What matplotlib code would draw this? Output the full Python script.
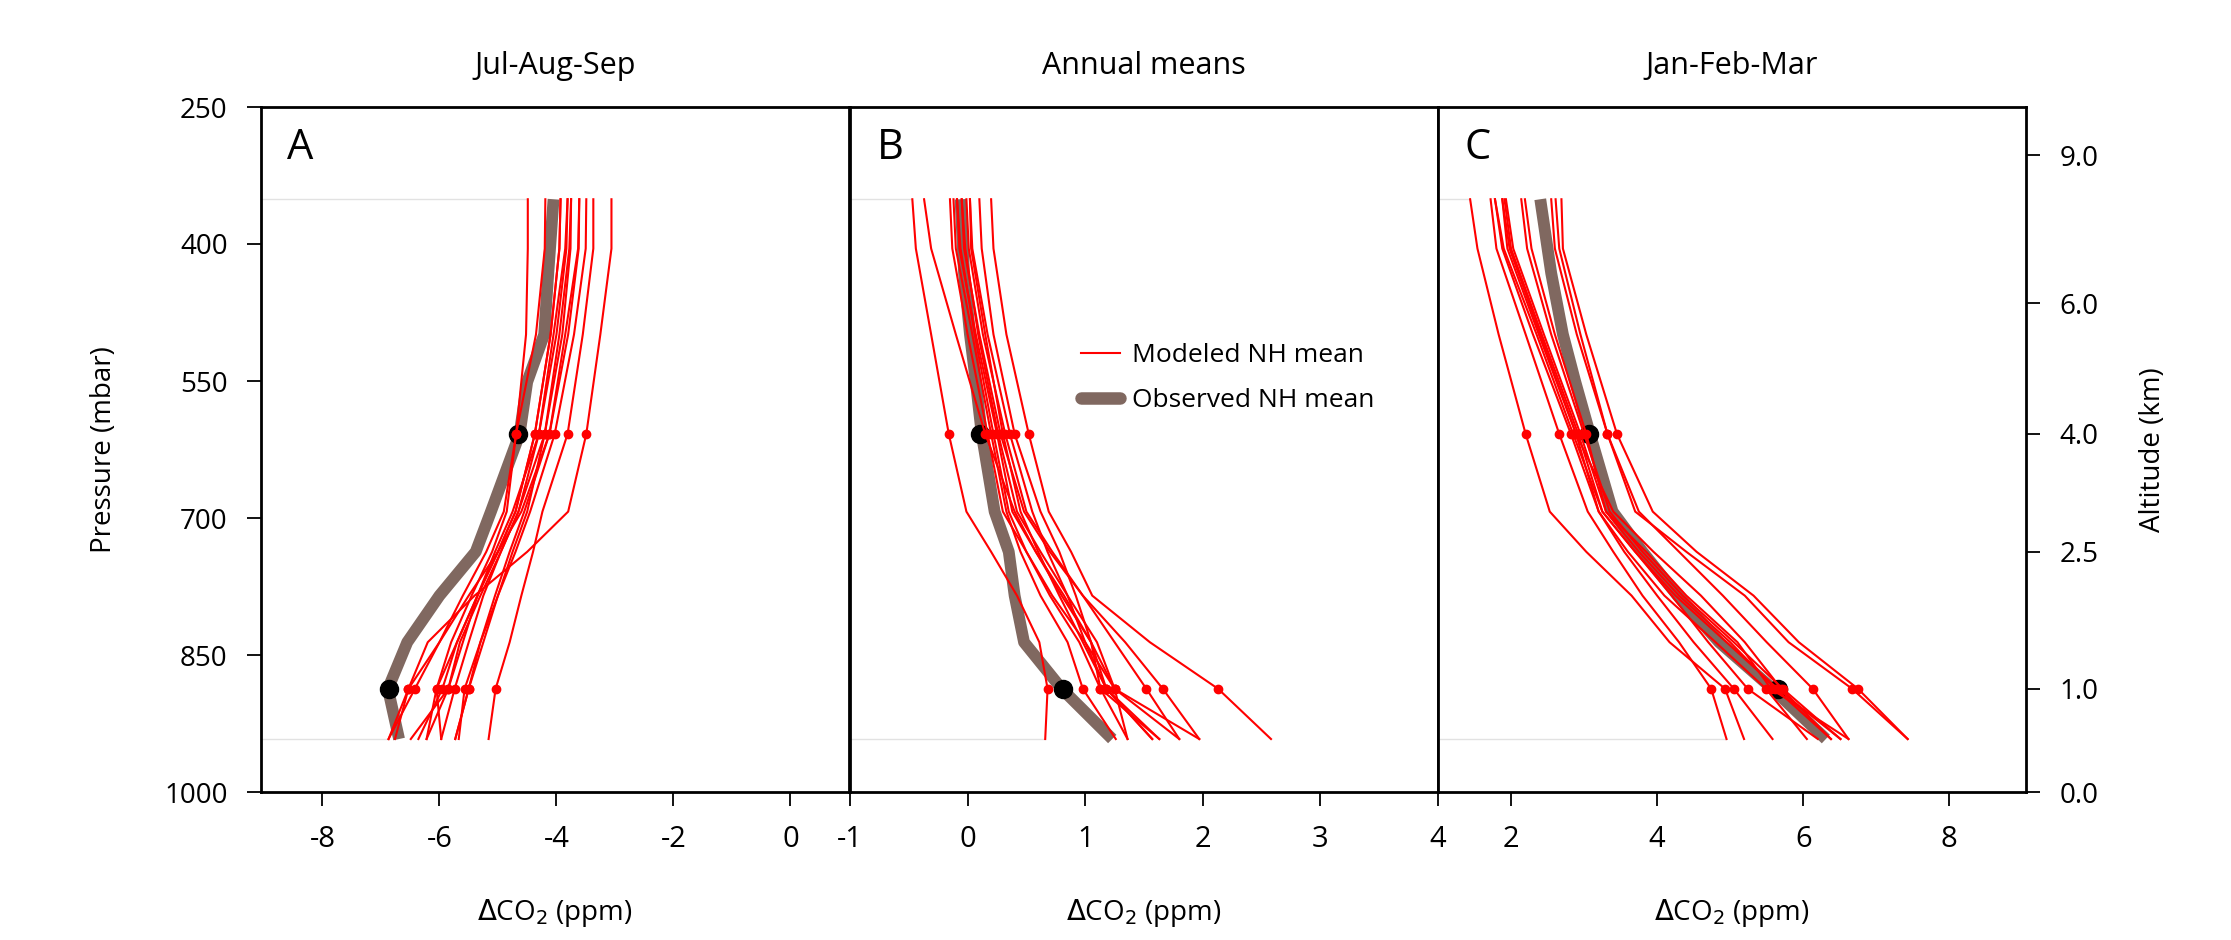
import numpy as np
import matplotlib.pyplot as plt

plt.rcParams['font.family'] = ['Open Sans', 'DejaVu Sans']
plt.rcParams['axes.unicode_minus'] = False

# pressure levels (mbar) of the profiles
levels = [351, 405, 499, 608, 693, 737, 785, 836, 887, 942]
obs_levels = [351, 432, 499, 551, 608, 693, 737, 785, 836, 887, 942]
dot_idx = [3, 8]           # 608 mbar (~4 km) and 887 mbar (~1 km)
dot_levels = [608, 887]

# Jul-Aug-Sep, modeled NH means (ppm)
jas_models = [
    [-3.06, -3.06, -3.25, -3.49, -3.80, -4.50, -5.40, -6.20, -6.53, -6.76],
    [-3.37, -3.37, -3.55, -3.81, -4.24, -4.40, -4.60, -4.80, -5.04, -5.16],
    [-3.49, -3.50, -3.70, -4.03, -4.45, -4.70, -5.00, -5.30, -5.57, -5.67],
    [-3.61, -3.62, -3.80, -4.12, -4.55, -4.80, -5.05, -5.30, -5.50, -5.73],
    [-3.75, -3.76, -3.90, -4.20, -4.65, -4.95, -5.25, -5.50, -5.74, -5.97],
    [-3.81, -3.83, -4.00, -4.30, -4.75, -5.05, -5.35, -5.60, -5.85, -6.22],
    [-3.93, -3.95, -4.10, -4.37, -4.70, -5.00, -5.35, -5.70, -5.95, -6.36],
    [-4.19, -4.20, -4.35, -4.69, -4.85, -5.10, -5.45, -5.80, -6.05, -6.22],
    [-4.49, -4.49, -4.52, -4.69, -4.90, -5.20, -5.60, -6.00, -6.42, -6.87],
    [-3.75, -3.78, -3.95, -4.20, -4.50, -4.75, -5.00, -5.25, -5.50, -5.73],
    [-3.61, -3.63, -3.85, -4.12, -4.60, -5.00, -5.50, -6.00, -6.53, -6.87],
    [-3.81, -3.85, -4.05, -4.30, -4.65, -4.95, -5.30, -5.65, -5.85, -6.49],
    [-3.93, -3.95, -4.10, -4.37, -4.70, -5.00, -5.35, -5.70, -6.05, -5.97],
]
jas_obs = [-4.05, -4.14, -4.21, -4.50, -4.63, -5.12, -5.38, -6.00, -6.55, -6.88, -6.69]
jas_obs_dots = [-4.66, -6.87]

# Annual means
ann_models = [
    [-0.47, -0.44, -0.31, -0.16, -0.01, 0.20, 0.42, 0.61, 0.68, 0.66],
    [0.20, 0.22, 0.33, 0.52, 0.69, 0.88, 1.06, 1.55, 2.13, 2.58],
    [-0.37, -0.31, -0.10, 0.15, 0.40, 0.58, 0.80, 1.05, 1.25, 1.36],
    [-0.15, -0.13, 0.00, 0.17, 0.30, 0.50, 0.72, 1.00, 1.18, 1.57],
    [-0.12, -0.10, 0.04, 0.20, 0.33, 0.45, 0.62, 0.85, 0.98, 1.26],
    [-0.09, -0.07, 0.07, 0.25, 0.38, 0.58, 0.82, 1.05, 1.13, 1.63],
    [-0.05, -0.03, 0.10, 0.28, 0.48, 0.70, 0.98, 1.34, 1.66, 1.97],
    [-0.01, 0.01, 0.13, 0.32, 0.50, 0.72, 0.98, 1.25, 1.52, 1.80],
    [0.02, 0.04, 0.17, 0.36, 0.55, 0.68, 0.85, 1.00, 1.25, 1.80],
    [0.10, 0.12, 0.22, 0.40, 0.62, 0.78, 0.92, 1.05, 1.18, 1.63],
    [-0.09, -0.06, 0.06, 0.22, 0.35, 0.50, 0.70, 0.95, 1.13, 1.36],
    [0.02, 0.03, 0.15, 0.30, 0.45, 0.60, 0.78, 0.98, 1.18, 1.57],
    [-0.05, -0.02, 0.09, 0.26, 0.42, 0.62, 0.85, 1.10, 1.25, 1.97],
]
ann_obs = [-0.06, -0.03, 0.02, 0.07, 0.12, 0.23, 0.35, 0.40, 0.48, 0.80, 1.23]
ann_obs_dots = [0.105, 0.815]

# Jan-Feb-Mar
jfm_models = [
    [1.44, 1.54, 1.83, 2.20, 2.53, 3.03, 3.65, 4.17, 4.93, 5.19],
    [1.72, 1.80, 2.20, 2.66, 3.05, 3.40, 3.80, 4.30, 4.74, 4.95],
    [1.78, 1.88, 2.30, 2.82, 3.20, 3.55, 4.00, 4.50, 5.05, 5.58],
    [1.88, 1.98, 2.40, 2.89, 3.20, 3.60, 4.10, 4.80, 5.49, 6.05],
    [1.91, 2.00, 2.42, 2.92, 3.25, 3.70, 4.20, 4.70, 5.24, 6.20],
    [1.93, 2.03, 2.45, 2.95, 3.30, 3.75, 4.30, 5.00, 5.62, 6.38],
    [2.14, 2.22, 2.55, 3.00, 3.35, 3.80, 4.35, 5.05, 5.72, 6.51],
    [2.19, 2.28, 2.60, 3.03, 3.30, 3.85, 4.40, 5.10, 5.56, 6.62],
    [2.55, 2.60, 2.90, 3.32, 3.75, 4.30, 4.90, 5.50, 6.13, 6.62],
    [2.61, 2.66, 2.95, 3.32, 3.70, 4.40, 5.20, 5.80, 6.67, 7.43],
    [2.69, 2.71, 3.03, 3.45, 3.94, 4.54, 5.32, 5.94, 6.75, 7.43],
    [1.78, 1.90, 2.35, 2.85, 3.25, 3.70, 4.25, 4.95, 5.65, 6.51],
    [1.88, 1.95, 2.38, 2.89, 3.40, 3.95, 4.60, 5.20, 5.70, 6.38],
]
jfm_obs = [2.40, 2.55, 2.71, 2.88, 3.08, 3.39, 3.80, 4.28, 4.85, 5.58, 6.31]
jfm_obs_dots = [3.07, 5.65]

titles = ['Jul-Aug-Sep', 'Annual means', 'Jan-Feb-Mar']
letters = ['A', 'B', 'C']
xlims = [(-9.05, 1.0), (-1, 4), (1, 9.05)]
xticks = [[-8, -6, -4, -2, 0], [-1, 0, 1, 2, 3, 4], [2, 4, 6, 8]]
p_ticks = [250, 400, 550, 700, 850, 1000]
alt_labels = ['9.0', '6.0', '4.0', '2.5', '1.0', '0.0']
alt_ticks = [303, 465, 608, 737, 887, 1000]   # pressure of each altitude

red = '#ff0000'
brown = '#806860'

fig = plt.figure(figsize=(22.31, 9.40), dpi=100)
W, H = 2231, 940
lefts = [261, 850, 1438]
width = 588
bottom, top = 792, 107

panels = [(jas_models, jas_obs, jas_obs_dots),
          (ann_models, ann_obs, ann_obs_dots),
          (jfm_models, jfm_obs, jfm_obs_dots)]

axes = []
for i, (models, obs, obs_dots) in enumerate(panels):
    ax = fig.add_axes([lefts[i] / W, 1 - bottom / H, width / W, (bottom - top) / H])
    axes.append(ax)

    # faint lines at the top and bottom model levels
    x0 = xlims[i][0]
    ax.hlines(levels[0], x0, min(m[0] for m in models), color='#e2e2e2', lw=1, zorder=0)
    ax.hlines(levels[-1], x0, min(min(m[-1] for m in models), obs[-1]), color='#e2e2e2', lw=1, zorder=0)

    ax.plot(obs, obs_levels, color=brown, lw=8.5, solid_capstyle='butt', zorder=2)
    ax.plot(obs_dots, dot_levels, 'o', color='black', ms=13, zorder=3)
    for m in models:
        ax.plot(m, levels, color=red, lw=1.5, zorder=4)
        ax.plot([m[j] for j in dot_idx], dot_levels, 'o', color=red, ms=6, zorder=5)

    ax.set_xlim(*xlims[i])
    ax.set_ylim(1000, 250)
    ax.set_xticks(xticks[i])
    ax.set_xticklabels([str(t) for t in xticks[i]])
    for s in ax.spines.values():
        s.set_linewidth(2)
    ax.tick_params(axis='x', direction='out', length=10, width=1.3, labelsize=21, pad=14)
    ax.set_xlabel(r'$\Delta$CO$_2$ (ppm)', fontsize=20, labelpad=31)
    ax.set_title(titles[i], fontsize=22, pad=24)
    ax.text(0.045, 0.94, letters[i], transform=ax.transAxes, fontsize=30,
            ha='left', va='center')

# left pressure axis
axes[0].set_yticks(p_ticks)
axes[0].set_yticklabels([str(p) for p in p_ticks])
axes[0].tick_params(axis='y', direction='out', length=10, width=1.3, labelsize=20, pad=14)
axes[0].set_ylabel('Pressure (mbar)', fontsize=20, labelpad=33)

axes[1].set_yticks([])

# right altitude axis
axes[2].yaxis.tick_right()
axes[2].yaxis.set_label_position('right')
axes[2].set_yticks(alt_ticks)
axes[2].set_yticklabels(alt_labels)
axes[2].tick_params(axis='y', direction='out', length=10, width=1.3, labelsize=20, pad=14)
axes[2].set_ylabel('Altitude (km)', fontsize=20, labelpad=29)

# legend in the middle panel
h1, = axes[1].plot([], [], color=red, lw=1.5)
h2, = axes[1].plot([], [], color=brown, lw=9, solid_capstyle='round')
axes[1].legend([h1, h2], ['Modeled NH mean', 'Observed NH mean'], frameon=False,
               loc='upper left', bbox_to_anchor=(0.352, 0.69), fontsize=19,
               handlelength=1.5, handletextpad=0.45, labelspacing=0.75)

plt.savefig('out.png', dpi=100)
